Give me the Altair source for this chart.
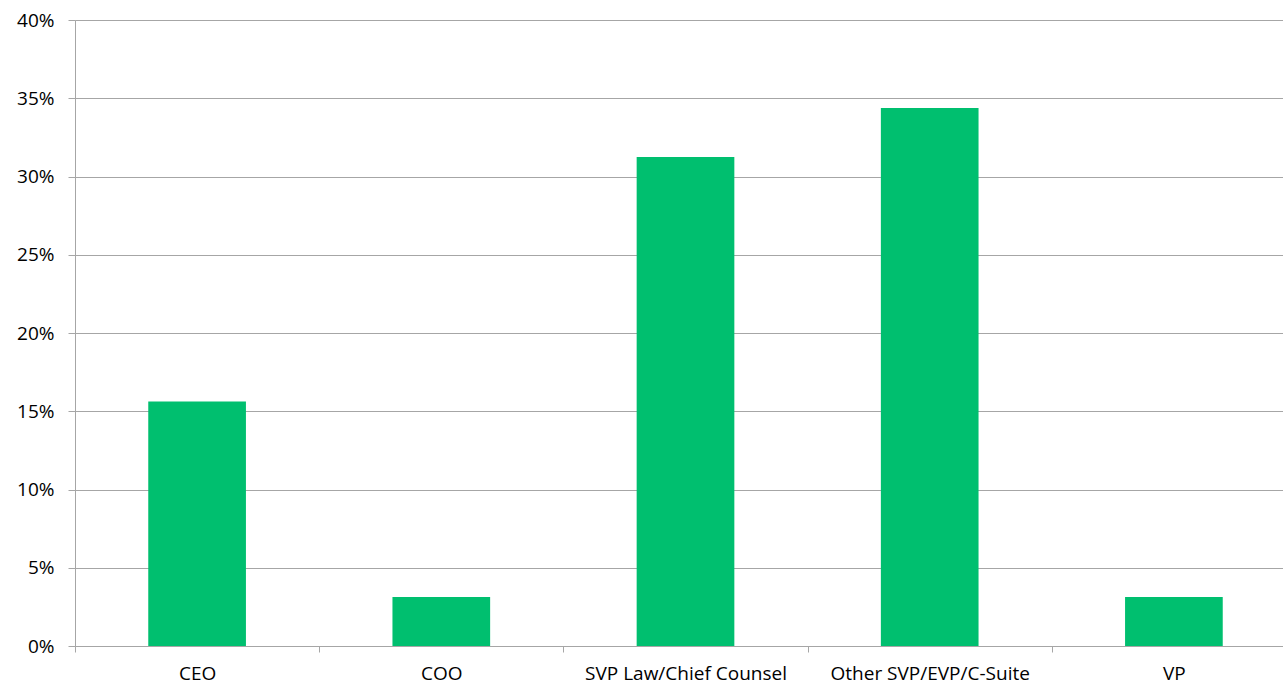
import altair as alt
import pandas as pd

# Share of respondents by job title
titles = ["CEO", "COO", "SVP Law/Chief Counsel", "Other SVP/EVP/C-Suite", "VP"]
shares = [0.15625, 0.03125, 0.3125, 0.34375, 0.03125]

df = pd.DataFrame({"title": titles, "share": shares})

FONT = "Open Sans"
GRID = "#A6A6A6"
BAR = "#00BF6F"

chart = (
    alt.Chart(df)
    .mark_bar(color=BAR, width=alt.RelativeBandSize(0.4))
    .encode(
        x=alt.X(
            "title:N",
            sort=titles,
            title=None,
            scale=alt.Scale(paddingInner=0, paddingOuter=0, range=[0, 1221]),
            axis=alt.Axis(
                labelAngle=0,
                labelLimit=400,
                tickBand="extent",
                tickSize=6,
                tickColor=GRID,
                domainColor=GRID,
                labelPadding=12,
                labelFontSize=19,
                labelFont=FONT,
                labelColor="#000000",
                grid=False,
            ),
        ),
        y=alt.Y(
            "share:Q",
            title=None,
            scale=alt.Scale(domain=[0, 0.4], nice=False),
            axis=alt.Axis(
                format=".0%",
                values=[0, 0.05, 0.1, 0.15, 0.2, 0.25, 0.3, 0.35, 0.4],
                tickSize=7,
                tickColor=GRID,
                domainColor=GRID,
                gridColor=GRID,
                labelPadding=14,
                labelFontSize=19,
                labelFont=FONT,
                labelColor="#000000",
            ),
        ),
    )
    .properties(
        width=1208,
        height=626,
        autosize=alt.AutoSizeParams(type="none"),
        padding={"left": 75, "top": 20, "right": 0, "bottom": 43},
    )
    .configure_view(stroke=None)
    .configure(background="#FFFFFF")
)

chart.save("out.html", embed_options={"renderer": "svg", "actions": False})
